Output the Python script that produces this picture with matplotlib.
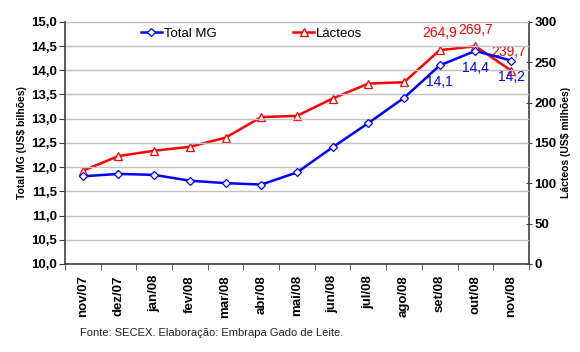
import matplotlib
matplotlib.use('Agg')
import matplotlib.pyplot as plt
import numpy as np

# ---------- data ----------
meses = ['nov/07', 'dez/07', 'jan/08', 'fev/08', 'mar/08', 'abr/08', 'mai/08',
         'jun/08', 'jul/08', 'ago/08', 'set/08', 'out/08', 'nov/08']
total_mg = [11.81, 11.86, 11.84, 11.72, 11.67, 11.64, 11.89,
            12.41, 12.91, 13.43, 14.1, 14.4, 14.2]
lacteos = [115.5, 133.7, 140.3, 145.2, 156.5, 182.0, 183.5,
           205.0, 223.5, 225.2, 264.9, 269.7, 239.7]

plt.rcParams['font.family'] = ['Liberation Sans', 'DejaVu Sans']

fig = plt.figure(figsize=(5.8, 3.52), dpi=100)
ax = fig.add_axes([0.112, 0.25, 0.8, 0.688])
ax2 = ax.twinx()

x = np.arange(len(meses))

ax.set_zorder(2)
ax.patch.set_visible(False)
ax2.set_zorder(1)

l1, = ax.plot(x, total_mg, color='#0000ff', lw=1.8, marker='D', ms=4,
              mfc='white', mec='#0000ff', mew=0.9, label='Total MG')
l2, = ax2.plot(x, lacteos, color='#ff0000', lw=1.8, marker='^', ms=5.5,
               mfc='white', mec='#ff0000', mew=0.9, label='Lácteos')

ax.set_xlim(-0.5, len(meses) - 0.5)
ax.set_ylim(10, 15)
ax2.set_ylim(0, 300)

ax.set_yticks(np.arange(10, 15.01, 0.5))
ax.set_yticklabels([f'{v:.1f}'.replace('.', ',') for v in np.arange(10, 15.01, 0.5)],
                   fontsize=9.5, fontweight='bold')
ax2.set_yticks(np.arange(0, 301, 50))
ax2.set_yticklabels([str(v) for v in range(0, 301, 50)], fontsize=9.5, fontweight='bold')

ax.set_xticks(x)
ax.set_xticklabels(meses, rotation=90, fontsize=9.5, fontweight='bold')
ax.set_xticks(np.arange(-0.5, len(meses), 1), minor=True)
ax.tick_params(axis='x', which='major', length=0, pad=8)
ax.tick_params(axis='x', which='minor', length=4, color='#404040', direction='out')
ax.tick_params(axis='y', length=4, color='#404040', direction='out', pad=2)
ax2.tick_params(axis='y', length=4, color='#404040', direction='inout', pad=2)

ax.grid(axis='y', color='#c0c0c0', lw=1)
ax.set_axisbelow(True)
for s in ['left', 'bottom']:
    ax.spines[s].set_color('#404040')
    ax.spines[s].set_linewidth(1.2)
ax.spines['top'].set_visible(False)
ax.spines['right'].set_visible(False)
for s in ['left', 'bottom', 'top']:
    ax2.spines[s].set_visible(False)
ax2.spines['right'].set_color('#404040')
ax2.spines['right'].set_linewidth(1.2)

ax.set_ylabel('Total MG (US$ bilhões)', fontsize=7.5, fontweight='bold', labelpad=3)
ax2.set_ylabel('Lácteos (US$ milhões)', fontsize=7.5, fontweight='bold', labelpad=3)

# data labels (offsets in points)
lab = dict(textcoords='offset points', ha='center', va='center', fontsize=10)
ax2.annotate('264,9', (x[10], lacteos[10]), xytext=(0, 12), color='#ff0000', **lab)
ax2.annotate('269,7', (x[11], lacteos[11]), xytext=(0, 12), color='#ff0000', **lab)
ax2.annotate('239,7', (x[12], lacteos[12]), xytext=(-2, 13), color='#ff0000', **lab)
ax.annotate('14,1', (x[10], total_mg[10]), xytext=(0, -12), color='#0000ff', **lab)
ax.annotate('14,4', (x[11], total_mg[11]), xytext=(0, -12), color='#0000ff', **lab)
ax.annotate('14,2', (x[12], total_mg[12]), xytext=(0, -12), color='#0000ff', **lab)

fig.legend(handles=[l1, l2], loc='center left', bbox_to_anchor=(0.222, 0.905), ncol=2,
           frameon=False, prop={'size': 9.5},
           handlelength=1.6, handletextpad=0.15, columnspacing=5.8)

fig.text(0.138, 0.045, 'Fonte: SECEX. Elaboração: Embrapa Gado de Leite.', fontsize=8,
         color='#202020')

fig.savefig('out.png', dpi=100)
